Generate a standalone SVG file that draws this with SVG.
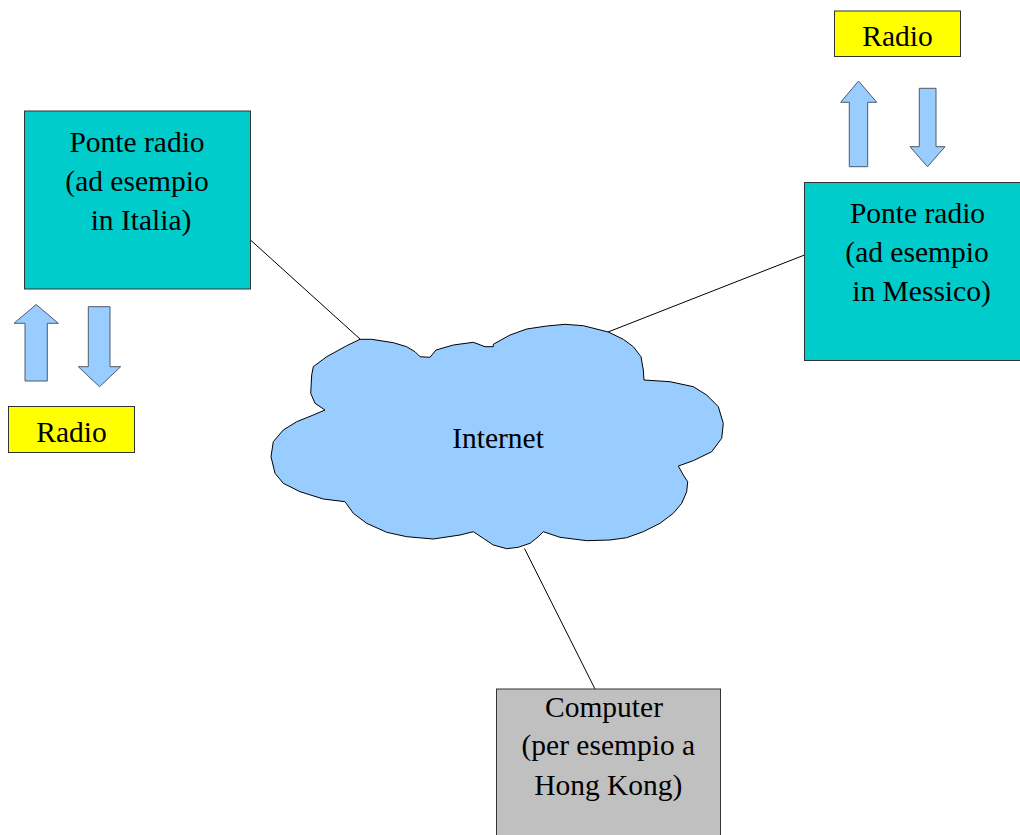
<svg xmlns="http://www.w3.org/2000/svg" width="1020" height="835" viewBox="0 0 1020 835">
<style>
text{font-family:"Liberation Serif","Times New Roman",serif;font-size:29.5px;fill:#000;text-anchor:middle}
.bridge{fill:#00cccc;stroke:#333;stroke-width:1}
.radio{fill:#ffff00;stroke:#333;stroke-width:1}
.comp{fill:#c0c0c0;stroke:#333;stroke-width:1}
.arrow{fill:#99ccff;stroke:#4d5a6a;stroke-width:1}
.cloud{fill:#99ccff;stroke:#000;stroke-width:1}
.conn{stroke:#000;stroke-width:1;fill:none}
</style>
<rect width="1020" height="835" fill="#fff"/>
<g id="connectors">
<line class="conn" x1="250.5" y1="240" x2="360" y2="339"/>
<line class="conn" x1="608" y1="332" x2="804.5" y2="255"/>
<line class="conn" x1="524.5" y1="548.5" x2="595" y2="689"/>
</g>
<g id="internet">
<path class="cloud" d="M360,339.3 L371.7,339.3 L393.3,342.7 L406.7,346.7 L415,351.7 L420,356.7 L430,357.3 L436,350 L453.3,345 L473.3,342.3 L485,346.7 L493.3,346.7 L493.3,344.3 L510,335 L526.7,329 L546.7,326 L565,324.3 L583.3,325.7 L608.3,332 L623.3,339.3 L633.3,346.7 L641,356.7 L643.3,370 L644,380 L670,381.7 L693.3,386.7 L706.7,395 L718.3,406.7 L723.3,423.3 L721.7,438.3 L711.7,451.7 L693.3,460.7 L678.3,466 L683.3,475 L687.7,481.7 L686.7,491.7 L681.7,503.3 L673.3,513.3 L660,523.3 L643.3,531.7 L626.7,537.7 L610,540 L586.7,540.7 L560,537.3 L543.3,531.7 L538.3,536.7 L530,543.3 L518.3,547.3 L506.7,548.7 L493.3,545 L483.3,538.3 L473.3,531.7 L460,535 L433.3,539 L406.7,536.7 L386.7,532.3 L366.7,523.3 L353.3,513.3 L345,501.7 L323.3,499 L300,491.7 L283.3,483.3 L275,473.3 L271,456.7 L273.3,441.7 L283.3,430 L296.7,421.7 L313.3,415 L325,410 L315,403.3 L310.7,393.3 L311.7,375 L313.3,366.7 L326.7,356.7 L346.7,345.7 Z"/>
<text x="498" y="448">Internet</text>
</g>
<g id="bridge-italia">
<rect class="bridge" x="24.5" y="111" width="226" height="178"/>
<text x="137" y="151.5">Ponte radio</text>
<text x="137" y="190.5">(ad esempio</text>
<text x="141" y="229.5">in Italia)</text>
</g>
<g id="bridge-messico">
<rect class="bridge" x="804.5" y="182.5" width="226" height="178"/>
<text x="917.5" y="222.5">Ponte radio</text>
<text x="917" y="261.5">(ad esempio</text>
<text x="921.5" y="300.5">in Messico)</text>
</g>
<g id="radio-italia">
<rect class="radio" x="8.5" y="406.5" width="126" height="46"/>
<text x="71.5" y="441.5">Radio</text>
</g>
<g id="radio-messico">
<rect class="radio" x="834.5" y="11" width="126" height="45.5"/>
<text x="897.5" y="45.5">Radio</text>
</g>
<g id="arrows-italia">
<path class="arrow" d="M36.2,304.5 L58.3,323.3 L47.3,323.3 L47.3,381 L25,381 L25,323.3 L14,323.3 Z"/>
<path class="arrow" d="M88.3,306.7 L110,306.7 L110,366.7 L120.7,366.7 L99.5,386.7 L78.3,366.7 L88.3,366.7 Z"/>
</g>
<g id="arrows-messico">
<path class="arrow" d="M858.5,81 L876.7,102.3 L867.7,102.3 L867.7,166.7 L849.3,166.7 L849.3,102.3 L840.7,102.3 Z"/>
<path class="arrow" d="M919.3,88.3 L936,88.3 L936,146.7 L945,146.7 L927.5,166.7 L910,146.7 L919.3,146.7 Z"/>
</g>
<g id="computer">
<rect class="comp" x="496.5" y="689" width="224" height="160"/>
<text x="604" y="716.5">Computer</text>
<text x="608.3" y="755">(per esempio a</text>
<text x="608.3" y="794.5">Hong Kong)</text>
</g>
</svg>
